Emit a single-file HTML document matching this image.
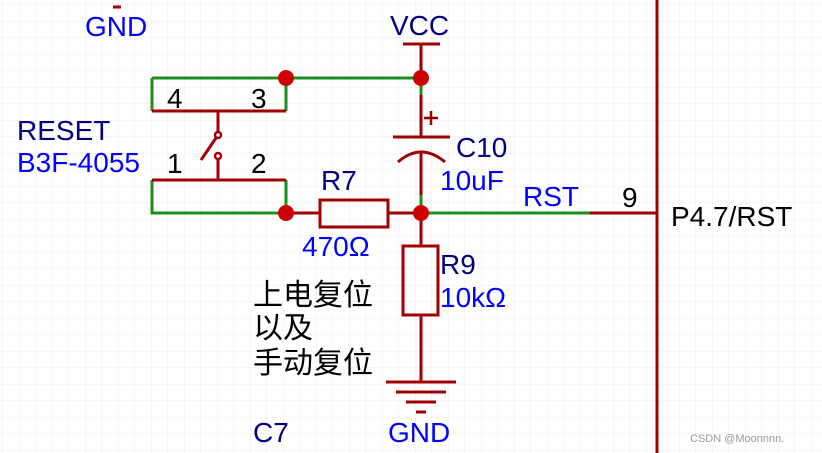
<!DOCTYPE html>
<html><head><meta charset="utf-8"><style>
html,body{margin:0;padding:0;background:#fff;}
svg{display:block;}
text{font-family:"Liberation Sans","Noto Sans CJK SC",sans-serif;}
</style></head><body>
<svg width="822" height="453" viewBox="0 0 822 453" xmlns="http://www.w3.org/2000/svg">
<defs>
<pattern id="g" width="16.5" height="16.5" patternUnits="userSpaceOnUse" x="3" y="5">
<path d="M16.5 0V16.5H0" fill="none" stroke="#eeeeee" stroke-width="1"/>
</pattern>
</defs>
<rect width="822" height="453" fill="url(#g)"/>
<g fill="none" stroke-width="3" stroke-linecap="butt">
<path d="M152 78H421M152 78V111M286 78V111M152 180V213H286M286 180V213M421 213H590M421 78V95M421 195V213" stroke="#1e8c1e"/>
<path d="M152 111H286M152 180H286M218 111V133M218 158V180M201 160L216 138" stroke="#a00000"/>
<path d="M286 213H320M388 213H421M590 213H657M657 0V453M403 44H440M421 44V78M421 95V137M393 137H450M421 152V195M421 213V246M421 315V382M386 382H456M396 392H446M406 402H436M416 412H426M113 7H121" stroke="#a00000"/>
<rect x="320" y="200" width="68" height="27" stroke="#a00000"/>
<rect x="403" y="246" width="35" height="69" stroke="#a00000"/>
<path d="M398 162Q421 142 445 162" stroke="#a00000"/>
<path d="M424 118H438M431 111V125" stroke="#a00000" stroke-width="2.5"/>
</g>
<circle cx="218" cy="135" r="3" fill="none" stroke="#a00000" stroke-width="2.5"/>
<circle cx="218" cy="156" r="3" fill="none" stroke="#a00000" stroke-width="2.5"/>
<g fill="#cc0000">
<circle cx="286" cy="78" r="8"/><circle cx="421" cy="78" r="8"/>
<circle cx="286" cy="213" r="8"/><circle cx="421" cy="213" r="8"/>
</g>
<g font-size="28">
<text x="85" y="36" fill="#0000ff">GND</text>
<text x="390" y="35" fill="#000080">VCC</text>
<text x="167" y="108" fill="#000">4</text>
<text x="251" y="108" fill="#000">3</text>
<text x="167" y="173" fill="#000">1</text>
<text x="251" y="173" fill="#000">2</text>
<text x="17" y="140" fill="#000080">RESET</text>
<text x="17" y="172" fill="#0000ff">B3F-4055</text>
<text x="456" y="157" fill="#000080">C10</text>
<text x="440" y="190" fill="#0000ff">10uF</text>
<text x="321" y="190" fill="#000080">R7</text>
<text x="302" y="256" fill="#0000ff">470Ω</text>
<text x="523" y="206" fill="#0000ff">RST</text>
<text x="622" y="207" fill="#000">9</text>
<text x="671" y="226" fill="#000">P4.7/RST</text>
<text x="440" y="274" fill="#000080">R9</text>
<text x="440" y="307" fill="#0000ff">10kΩ</text>
<text x="253" y="442" fill="#000080">C7</text>
<text x="388" y="442" fill="#0000ff">GND</text>
</g>
<g font-size="30" fill="#000">
<text x="253" y="305">上电复位</text>
<text x="253" y="338">以及</text>
<text x="253" y="373">手动复位</text>
</g>
<text x="690" y="442" font-size="11" fill="#999">CSDN @Moonnnn.</text>
</svg>
</body></html>
